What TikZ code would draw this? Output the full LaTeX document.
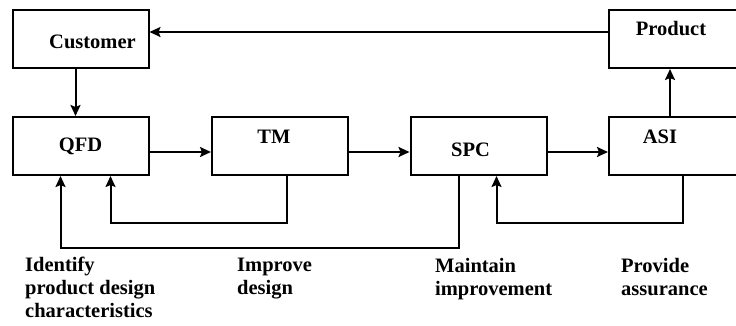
\documentclass[tikz,border=0pt]{standalone}
\usepackage{fontspec}
\setmainfont{Liberation Serif}
\usetikzlibrary{arrows.meta}
\begin{document}
\begin{tikzpicture}[
        x=1pt, y=-1pt,
        every node/.style={font=\fontsize{20.5}{23}\selectfont\bfseries},
        box/.style={draw, line width=2pt, minimum width=136pt, minimum height=58pt, inner sep=0pt},
        wide/.style={box, minimum width=130pt},
        note/.style={anchor=base west, align=left, inner sep=0pt},
        arr/.style={-{Stealth[length=11pt, width=10pt, inset=2pt]}, line width=2pt},
    ]
    \useasboundingbox (0,0) rectangle (736,325);
    \node[box, label={[shift={(12pt,-3pt)}]center:Customer}] (customer) at (80.5,39) {};
    \node[wide, label={[shift={(-3pt,10pt)}]center:Product}] (product) at (674,39) {};
    \node[box] (qfd) at (80.5,146) {QFD};
    \node[box, label={[shift={(-6pt,9pt)}]center:TM}] (tm) at (280,146) {};
    \node[box, label={[shift={(-8pt,-4pt)}]center:SPC}] (spc) at (478.5,146) {};
    \node[wide, label={[shift={(-14pt,9pt)}]center:ASI}] (asi) at (674,146) {};

    \draw[arr] ([yshift=7pt]product.west) -- ([yshift=7pt]customer.east);
    \draw[arr] ([xshift=-5pt]customer.south) -- ([xshift=-5pt]qfd.north);
    \draw[arr] ([yshift=-6pt]qfd.east) -- ([yshift=-6pt]tm.west);
    \draw[arr] ([yshift=-6pt]tm.east) -- ([yshift=-6pt]spc.west);
    \draw[arr] ([yshift=-6pt]spc.east) -- ([yshift=-6pt]asi.west);
    \draw[arr] ([xshift=-4pt]asi.north) -- ([xshift=-4pt]product.south);
    \draw[arr] ([xshift=7pt]tm.south) -- ++(0,47) -| ([xshift=30pt]qfd.south);
    \draw[arr] ([xshift=-20pt]spc.south) -- ++(0,72) -| ([xshift=-20pt]qfd.south);
    \draw[arr] ([xshift=9pt]asi.south) -- ++(0,47) -| ([xshift=18pt]spc.south);

    \node[note] (identify) at (25,317) {Identify\\product design\\characteristics};
    \node[note] (improve) at (237,294) {Improve\\design};
    \node[note] (maintain) at (435,295) {Maintain\\improvement};
    \node[note] (provide) at (621,295) {Provide\\assurance};
\end{tikzpicture}
\end{document}
